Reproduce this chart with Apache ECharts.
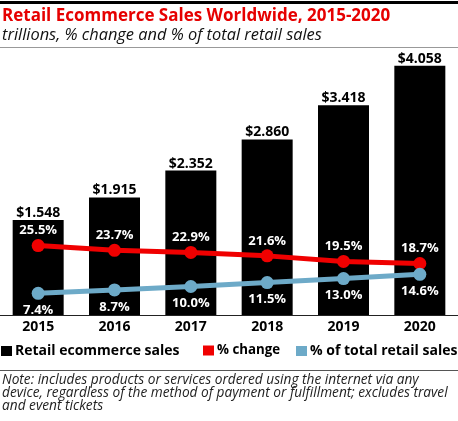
<!DOCTYPE html>
<html><head><meta charset="utf-8">
<script src="https://cdn.jsdelivr.net/npm/echarts@6/dist/echarts.min.js"></script>
<style>html,body{margin:0;padding:0;background:#fff}#c{width:458px;height:421px}</style>
</head><body><div id="c"></div>
<script>
const years = ['2015','2016','2017','2018','2019','2020'];
const sales = [1.548, 1.915, 2.352, 2.860, 3.418, 4.058];
const pctChange = [25.5, 23.7, 22.9, 21.6, 19.5, 18.7];
const pctTotal = [7.4, 8.7, 10.0, 11.5, 13.0, 14.6];
const seriesNames = ['Retail ecommerce sales', '% change', '% of total retail sales'];
const titleText = 'Retail Ecommerce Sales Worldwide, 2015-2020';
const subtitleText = 'trillions, % change and % of total retail sales';
const noteText = 'Note: includes products or services ordered using the internet via any\ndevice, regardless of the method of payment or fulfillment; excludes travel\nand event tickets';

const BOLD = '"Open Sans", sans-serif';
const RED = '#f00000';
const BLUE = '#6daac8';

function legendAt(name, left, size) {
  return {
    left: left, top: 344, padding: 0, itemWidth: 11, itemHeight: 10, itemGap: 0, icon: 'rect',
    textStyle: {color: '#000', fontWeight: 'bold', fontSize: size, fontFamily: BOLD, padding: [0, 0, 0, -2]},
    data: [name]
  };
}

const chart = echarts.init(document.getElementById('c'), null, {renderer: 'canvas'});
chart.setOption({
  animation: false,
  textStyle: {fontFamily: BOLD},
  grid: {left: -2, right: -4, top: 8, bottom: 106, containLabel: false},
  xAxis: {
    type: 'category', data: years,
    axisLine: {lineStyle: {color: '#222', width: 1}},
    axisTick: {show: false},
    axisLabel: {color: '#000', fontWeight: 'bold', fontSize: 14, margin: 5, fontFamily: BOLD}
  },
  yAxis: [
    {type: 'value', min: 0, max: 5, show: false, splitLine: {show: false}},
    {type: 'value', min: -0.8, max: 115.5, show: false, splitLine: {show: false}}
  ],
  legend: [
    legendAt(seriesNames[0], 1, 14),
    legendAt(seriesNames[1], 203, 13.3),
    legendAt(seriesNames[2], 296, 14)
  ],
  series: [
    {
      name: seriesNames[0], type: 'bar', data: sales, barWidth: 51, yAxisIndex: 0,
      itemStyle: {color: '#000'},
      label: {show: true, position: 'top', distance: 0, color: '#000', fontWeight: 'bold', fontSize: 14, fontFamily: BOLD,
        formatter: p => '$' + p.value.toFixed(3)}
    },
    {
      name: seriesNames[1], type: 'line', data: pctChange, yAxisIndex: 1, z: 3,
      symbol: 'circle', symbolSize: 13, color: RED,
      lineStyle: {color: RED, width: 5}, itemStyle: {color: RED},
      label: {show: true, position: 'top', distance: 2, color: '#fff', fontWeight: 'bold', fontSize: 13, fontFamily: BOLD,
        formatter: p => p.value.toFixed(1) + '%'}
    },
    {
      name: seriesNames[2], type: 'line', data: pctTotal, yAxisIndex: 1, z: 4,
      symbol: 'circle', symbolSize: 13, color: BLUE,
      lineStyle: {color: BLUE, width: 5}, itemStyle: {color: BLUE},
      label: {show: true, position: 'bottom', distance: 4, color: '#fff', fontWeight: 'bold', fontSize: 13, fontFamily: BOLD,
        formatter: p => p.value.toFixed(1) + '%'}
    }
  ],
  graphic: [
    {type: 'rect', shape: {x: 0, y: 1, width: 458, height: 3}, style: {fill: '#000'}},
    {type: 'text', x: 2, y: 16, style: {text: titleText, fill: '#e60000', font: 'bold 17px "Open Sans", sans-serif', textVerticalAlign: 'middle'}},
    {type: 'text', x: 2, y: 35, style: {text: subtitleText, fill: '#111', font: 'italic 16.4px "Open Sans", sans-serif', textVerticalAlign: 'middle'}},
    {type: 'rect', shape: {x: 0, y: 47, width: 458, height: 1}, style: {fill: '#999'}},
    {type: 'rect', shape: {x: 0, y: 370, width: 458, height: 1}, style: {fill: '#555'}},
    {type: 'text', x: 2, y: 374, style: {text: noteText, fill: '#222', font: 'italic 13.7px "Open Sans", sans-serif', lineHeight: 13}}
  ]
});
</script></body></html>
